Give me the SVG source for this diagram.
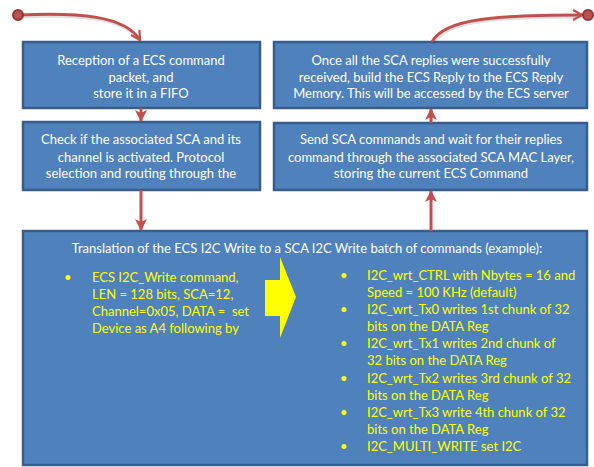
<svg xmlns="http://www.w3.org/2000/svg" width="594" height="467" viewBox="0 0 594 467">
  <style>
    .box { fill: #4F81BD; stroke: #385D8A; stroke-width: 2.5; }
    .lbl { font-family: Lato, "Liberation Sans", sans-serif; font-size: 13px; fill: #FFFFFF; text-anchor: middle; }
    .ylw { font-family: Lato, "Liberation Sans", sans-serif; font-size: 13px; fill: #FFFF00; }
    .wire { fill: none; stroke: #C0504D; stroke-width: 3; }
    .shadow { fill: none; stroke: #000000; stroke-opacity: 0.12; stroke-width: 3; }
    .dot { fill: #C0504D; stroke: #8C3836; stroke-width: 2; }
  </style>
  <defs>
    <marker id="head" viewBox="0 0 12 12" refX="11" refY="6" markerWidth="12" markerHeight="12" markerUnits="userSpaceOnUse" orient="auto">
      <path d="M0,0 L12,6 L0,12 L3,6 Z" fill="#C0504D"/>
    </marker>
    <marker id="vhead" viewBox="0 0 12 12" refX="10" refY="6" markerWidth="12" markerHeight="12" markerUnits="userSpaceOnUse" orient="auto">
      <path d="M1,1 L10,6 L1,11" fill="none" stroke="#C0504D" stroke-width="2.2"/>
    </marker>
  </defs>

  <!-- process boxes -->
  <g id="reception">
    <rect class="box" x="23" y="42" width="237" height="66"/>
    <text class="lbl" x="141" y="65">Reception of a ECS command</text>
    <text class="lbl" x="141" y="82">packet, and</text>
    <text class="lbl" x="141" y="98">store it in a FIFO</text>
  </g>
  <g id="reply">
    <rect class="box" x="274" y="42" width="313" height="66"/>
    <text class="lbl" x="431" y="65">Once all the SCA replies were successfully</text>
    <text class="lbl" x="431" y="82">received, build the ECS Reply to the ECS Reply</text>
    <text class="lbl" x="431" y="98">Memory. This will be accessed by the ECS server</text>
  </g>
  <g id="check">
    <rect class="box" x="23" y="122" width="237" height="68"/>
    <text class="lbl" x="141" y="144">Check if the associated SCA and its</text>
    <text class="lbl" x="141" y="162">channel is activated. Protocol</text>
    <text class="lbl" x="141" y="178">selection and routing through the</text>
  </g>
  <g id="send">
    <rect class="box" x="274" y="123" width="313" height="67"/>
    <text class="lbl" x="431" y="144">Send SCA commands and wait for their replies</text>
    <text class="lbl" x="431" y="162">command through the associated SCA MAC Layer,</text>
    <text class="lbl" x="431" y="178">storing the current ECS Command</text>
  </g>
  <g id="translation">
    <rect class="box" x="23" y="231" width="564" height="234"/>
    <text class="lbl" x="307" y="253">Translation of the ECS I2C Write to a SCA I2C Write batch of commands (example):</text>
    <g class="ylw">
      <text x="64" y="282">•</text>
      <text x="92" y="282">ECS I2C_Write command,</text>
      <text x="92" y="299">LEN = 128 bits, SCA=12,</text>
      <text x="92" y="316">Channel=0x05, DATA = &#160;set</text>
      <text x="92" y="333">Device as A4 following by</text>
    </g>
    <path d="M265,280 H280 V257 L296,297 L280,338 V316 H265 Z" fill="#FFFF00"/>
    <g class="ylw">
      <text x="340" y="280">•</text>
      <text x="367" y="280">I2C_wrt_CTRL with Nbytes = 16 and</text>
      <text x="367" y="297">Speed = 100 KHz (default)</text>
      <text x="340" y="314">•</text>
      <text x="367" y="314">I2C_wrt_Tx0 writes 1st chunk of 32</text>
      <text x="367" y="331">bits on the DATA Reg</text>
      <text x="340" y="348">•</text>
      <text x="367" y="348">I2C_wrt_Tx1 writes 2nd chunk of</text>
      <text x="367" y="365">32 bits on the DATA Reg</text>
      <text x="340" y="383">•</text>
      <text x="367" y="383">I2C_wrt_Tx2 writes 3rd chunk of 32</text>
      <text x="367" y="400">bits on the DATA Reg</text>
      <text x="340" y="417">•</text>
      <text x="367" y="417">I2C_wrt_Tx3 write 4th chunk of 32</text>
      <text x="367" y="434">bits on the DATA Reg</text>
      <text x="340" y="451">•</text>
      <text x="367" y="451">I2C_MULTI_WRITE set I2C</text>
    </g>
  </g>

  <!-- connectors -->
  <g id="connectors">
    <path class="shadow" d="M19,17 C80,14 125,18 141,42"/>
    <path class="wire" d="M18,15 C80,12 125,16 140,40" marker-end="url(#vhead)"/>
    <circle class="dot" cx="18" cy="15" r="5"/>
    <line class="wire" x1="141" y1="108" x2="141" y2="121" marker-end="url(#head)"/>
    <line class="wire" x1="141" y1="190" x2="141" y2="230" marker-end="url(#head)"/>
    <line class="wire" x1="431" y1="231" x2="431" y2="191" marker-end="url(#head)"/>
    <line class="wire" x1="431" y1="123" x2="431" y2="109" marker-end="url(#head)"/>
    <path class="shadow" d="M433,44 C445,20 500,17 584,17"/>
    <path class="wire" d="M432,42 C444,18 500,15 582,15" marker-end="url(#vhead)"/>
    <circle class="dot" cx="588" cy="15" r="5"/>
  </g>
</svg>
